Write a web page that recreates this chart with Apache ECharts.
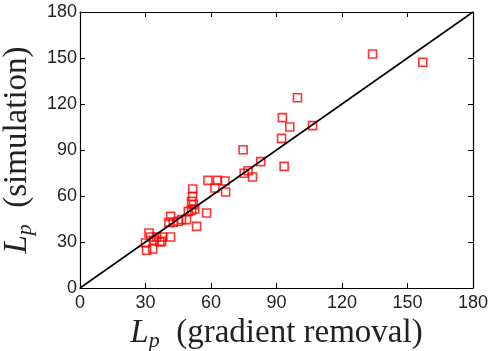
<!DOCTYPE html>
<html><head><meta charset="utf-8">
<script src="https://cdn.jsdelivr.net/npm/echarts@6/dist/echarts.min.js"></script>
<style>html,body{margin:0;padding:0;background:#fff}#c{width:491px;height:351px}</style>
</head><body><div id="c"></div>
<script>
const xGrad = [134,157,99.6,92.7,96.1,106.5,92.3,93.5,74.7,82.8,75.2,77,79,58.6,63,66.4,61.8,66.7,51.6,51.6,51.1,51.9,52.6,51.1,49.6,48.8,46.5,45,42.7,40.7,41.5,41.5,53.4,58,37.8,37.4,36.6,35.1,33.9,32.3,31.6,30,30.5,33.3];
const ySim  = [152.6,147.2,124.1,111.1,105,105.9,97.6,79.3,90.2,82.4,74.8,76.5,72.4,70.2,70.2,69.8,65.2,62.6,64.6,59.8,56.5,54.3,51.5,50.6,50,44.6,44.6,43.5,42.8,42.8,46.7,33.3,40.2,48.9,33.3,30.4,30,33.3,31.1,33.3,35.9,29.3,24.6,25.4];
const ticks = [0,30,60,90,120,150,180];
const pts = xGrad.map((x,i)=>[x,ySim[i]]);
const chart = echarts.init(document.getElementById('c'));
const tickFont = {fontFamily:'Liberation Sans, Arial, sans-serif', fontSize:18, color:'#222'};
const axCommon = {min:0,max:180,interval:30,
  axisLine:{show:true,onZero:false,lineStyle:{color:'#000',width:1.2}},
  axisTick:{show:true,inside:true,length:5,lineStyle:{color:'#000',width:1}},
  splitLine:{show:false}};
const titleRich = {
  L:{fontFamily:'Liberation Serif, serif',fontStyle:'italic',fontSize:33,lineHeight:36,color:'#222'},
  p:{fontFamily:'Liberation Serif, serif',fontStyle:'italic',fontSize:22,lineHeight:22,color:'#222',verticalAlign:'bottom',padding:[0,0,-1,0]},
  t:{fontFamily:'Liberation Serif, serif',fontSize:33,lineHeight:36,color:'#222'}
};
chart.setOption({
  animation:false,
  grid:{left:80,right:18,top:12,bottom:63,containLabel:false,outerBoundsMode:'none'},
  xAxis:[
    Object.assign({type:'value',position:'bottom',
      axisLabel:Object.assign({margin:6},tickFont),
      name:'{L|L}{p|p}{t|  (gradient removal)}',nameLocation:'middle',nameGap:22,
      nameTextStyle:{rich:titleRich}},axCommon),
    Object.assign({type:'value',position:'top',axisLabel:{show:false}},axCommon)
  ],
  yAxis:[
    Object.assign({type:'value',position:'left',
      axisLabel:Object.assign({margin:3},tickFont),
      name:'{L|L}{p|p}{t|  (simulation)}',nameLocation:'middle',nameGap:25,
      nameTextStyle:{rich:titleRich}},axCommon),
    Object.assign({type:'value',position:'right',axisLabel:{show:false}},axCommon)
  ],
  series:[
    {type:'line',data:[[ticks[0],ticks[0]],[ticks[6],ticks[6]]],symbol:'none',
     lineStyle:{color:'#000',width:1.6},silent:true},
    {type:'scatter',data:pts,symbol:'rect',symbolSize:8,
     itemStyle:{color:'rgba(0,0,0,0)',borderColor:'#ff0000',borderWidth:1.6}}
  ]
});
</script></body></html>
